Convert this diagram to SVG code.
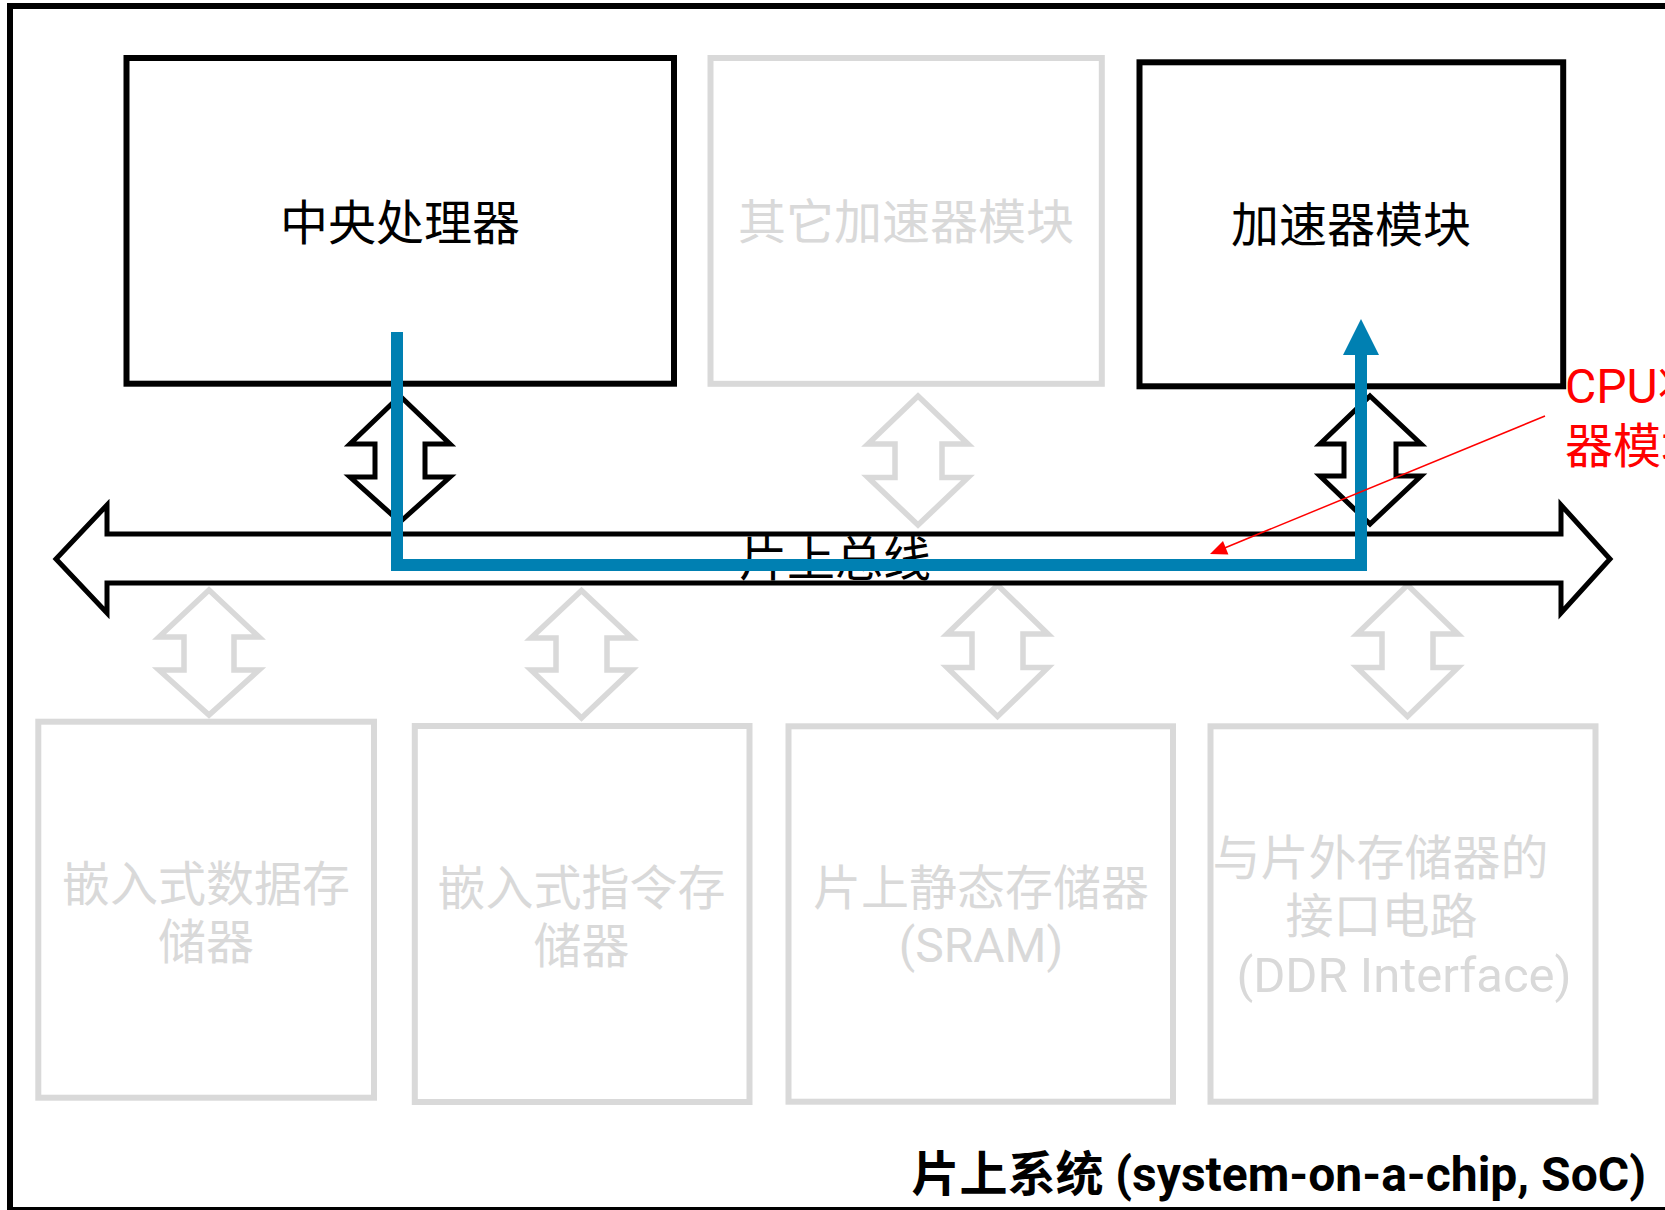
<svg xmlns="http://www.w3.org/2000/svg" width="1665" height="1210" viewBox="0 0 1665 1210">
  <defs>
    <style>
      .t { font-family: "Roboto", "Noto Sans CJK SC", sans-serif; font-size: 48px; }
      .c { text-anchor: middle; }
      .blk { fill: #000000; }
      .gry { fill: #d9d9d9; }
      .boxB { fill: #ffffff; stroke: #000000; stroke-width: 6; }
      .boxG { fill: #ffffff; stroke: #d9d9d9; stroke-width: 6; }
      .arrB { fill: #ffffff; stroke: #000000; stroke-width: 5; stroke-linejoin: miter; }
      .arrG { fill: #ffffff; stroke: #d9d9d9; stroke-width: 5.5; stroke-linejoin: miter; }
      .red { fill: #ff0000; }
    </style>
  </defs>
  <rect x="0" y="0" width="1665" height="1210" fill="#ffffff"/>
  <g id="soc-border">
    <rect x="10" y="6" width="1700" height="1204" fill="none" stroke="#000000" stroke-width="6"/>
  </g>

  <g id="node-cpu">
    <rect class="boxB" x="126.5" y="58" width="547.5" height="325.7"/>
    <text class="t c blk" x="400" y="240">中央处理器</text>
  </g>
  <g id="node-other-acc">
    <rect class="boxG" x="710.5" y="58" width="391.3" height="325.8"/>
    <text class="t c gry" x="906" y="239">其它加速器模块</text>
  </g>
  <g id="node-acc">
    <rect class="boxB" x="1139.5" y="62.3" width="423.7" height="324"/>
    <text class="t c blk" x="1351" y="242">加速器模块</text>
  </g>

  <g id="node-dmem">
    <rect class="boxG" x="38.3" y="721.7" width="335.7" height="376"/>
    <text class="t c gry" x="206" y="900.5">嵌入式数据存</text>
    <text class="t c gry" x="206" y="958.5">储器</text>
  </g>
  <g id="node-imem">
    <rect class="boxG" x="414.8" y="726" width="334.7" height="376"/>
    <text class="t c gry" x="581.5" y="904.5">嵌入式指令存</text>
    <text class="t c gry" x="581.5" y="963">储器</text>
  </g>
  <g id="node-sram">
    <rect class="boxG" x="788.5" y="726.3" width="384.5" height="375.4"/>
    <text class="t c gry" x="981" y="904.5">片上静态存储器</text>
    <text class="t c gry" x="981" y="962">(SRAM)</text>
  </g>
  <g id="node-ddr">
    <rect class="boxG" x="1210.5" y="726.3" width="385" height="375.4"/>
    <text class="t c gry" x="1380.5" y="874.5">与片外存储器的</text>
    <text class="t c gry" x="1381.5" y="933">接口电路</text>
    <text class="t c gry" x="1404" y="991.5" style="font-size:49px">(DDR Interface)</text>
  </g>

  <g id="connectors">
    <polygon class="arrB" points="400,396 450,444 425,444 425,477 450,477 400,522 350,477 375,477 375,444 350,444"/>
    <polygon class="arrG" points="918,396 968,444 942,444 942,477.5 968,477.5 918,525 868,477.5 895,477.5 895,444 868,444"/>
    <polygon class="arrB" points="1370,396 1421,444 1396,444 1396,476 1421,476 1370,524 1320,476 1344,476 1344,444 1320,444"/>
    <polygon class="arrG" points="209,590 259,637 234,637 234,670 259,670 209,715 159,670 184,670 184,637 159,637"/>
    <polygon class="arrG" points="581.5,590.5 632,638 607,638 607,670 632,670 581.5,718 531,670 556,670 556,638 531,638"/>
    <polygon class="arrG" points="997.5,585 1048,634 1023,634 1023,667.5 1048,667.5 997.5,716.5 947,667.5 972,667.5 972,634 947,634"/>
    <polygon class="arrG" points="1407.5,585 1458,634 1433,634 1433,667.5 1458,667.5 1407.5,716.5 1357,667.5 1382,667.5 1382,634 1357,634"/>
  </g>

  <g id="node-bus">
    <polygon fill="#ffffff" stroke="#000000" stroke-width="5" points="56,559 107,505 107,534 1561,534 1561,505 1610,559 1561,613 1561,583 107,583 107,613"/>
    <text class="t c blk" x="835" y="576">片上总线</text>
  </g>

  <g id="data-path">
    <path d="M397,332 V565 H1361 V354" fill="none" stroke="#0080b2" stroke-width="12" stroke-linejoin="miter"/>
    <polygon fill="#0080b2" points="1361,319 1379,355 1343,355"/>
  </g>

  <g id="annotation">
    <line x1="1545" y1="416" x2="1224" y2="548.2" stroke="#ff0000" stroke-width="1.5"/>
    <polygon fill="#ff0000" points="1210,554 1223,541 1228.4,554.5"/>
    <text class="t red" x="1565" y="403">CPU将数据写入加速</text>
    <text class="t red" x="1565" y="463">器模块</text>
  </g>

  <g id="title">
    <text class="t blk" x="1646" y="1191" style="font-weight:bold; text-anchor:end;">片上系统 (system-on-a-chip, SoC)</text>
  </g>
</svg>
